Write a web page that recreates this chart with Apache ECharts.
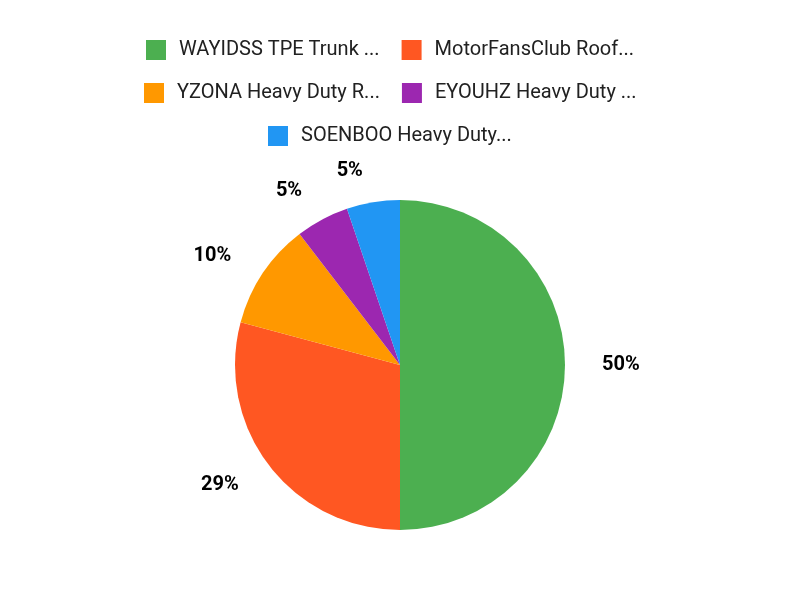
<!DOCTYPE html>
<html>
<head>
<meta charset="utf-8">
<style>
  html, body { margin: 0; padding: 0; background: #ffffff; }
  #chart { width: 800px; height: 600px; }
</style>
<script src="https://cdn.jsdelivr.net/npm/echarts@6/dist/echarts.min.js"></script>
</head>
<body>
<div id="chart"></div>
<script>
  // product names as shown (already truncated in the source)
  var names = [
    'WAYIDSS TPE Trunk ...',
    'MotorFansClub Roof...',
    'YZONA Heavy Duty R...',
    'EYOUHZ Heavy Duty ...',
    'SOENBOO Heavy Duty...'
  ];
  var counts = [48, 28, 10, 5, 5];
  var colors = ['#4CAF50', '#FF5722', '#FF9800', '#9C27B0', '#2196F3'];

  // one legend per row so each row is centred on its own
  var legendRows = [[0, 1], [2, 3], [4]];
  var legendTops = [35, 78, 121];
  var legendMid = 390;   // rows sit a little left of the pie centre

  var chart = echarts.init(document.getElementById('chart'));

  var ctx = document.createElement('canvas').getContext('2d');
  ctx.font = '20px Roboto';

  var legends = legendRows.map(function (row, i) {
    var w = 0;
    row.forEach(function (k, j) {
      w += 20 + 5 + 8 + ctx.measureText(names[k]).width;
      if (j > 0) w += 22;
    });
    return {
      data: row.map(function (k) { return names[k]; }),
      left: Math.round(legendMid - w / 2) - 5,
      top: legendTops[i],
      orient: 'horizontal',
      icon: 'rect',
      itemWidth: 20,
      itemHeight: 20,
      itemGap: 22,
      selectedMode: false,
      textStyle: {
        color: '#212121',
        fontSize: 20,
        lineHeight: 20,
        fontFamily: 'Roboto',
        padding: [0, 0, 0, 8]
      }
    };
  });

  chart.setOption({
    backgroundColor: '#ffffff',
    color: colors,
    animation: false,
    legend: legends,
    series: [{
      type: 'pie',
      center: [400, 365],
      radius: 165,
      startAngle: 90,
      clockwise: true,
      avoidLabelOverlap: false,
      data: names.map(function (n, i) { return { name: n, value: counts[i] }; }),
      label: {
        show: true,
        position: 'outside',
        color: '#000000',
        fontSize: 20,
        fontWeight: 'bold',
        fontFamily: 'Roboto',
        formatter: function (p) { return Math.round(p.percent) + '%'; }
      },
      labelLine: { show: false, length: 32, length2: 0 },
      itemStyle: { borderWidth: 0 },
      emphasis: { disabled: true }
    }]
  });
</script>
</body>
</html>
